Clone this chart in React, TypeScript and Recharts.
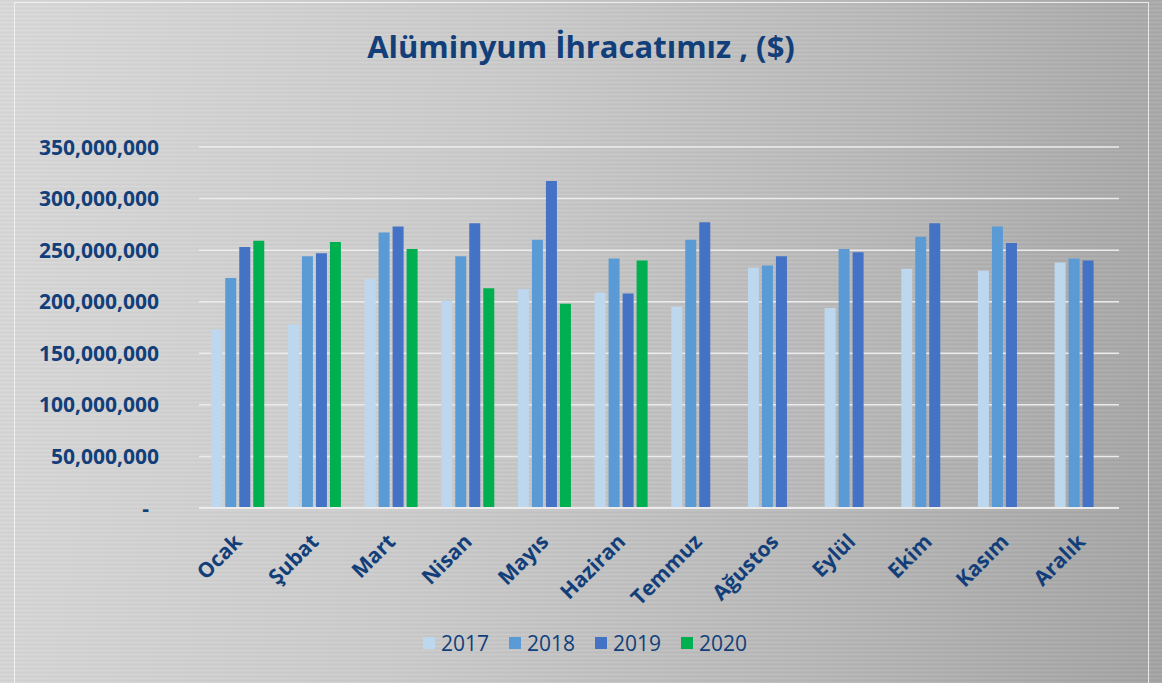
import { BarChart, Bar, XAxis, YAxis, CartesianGrid, Legend } from "recharts";

const months = [
  "Ocak", "Şubat", "Mart", "Nisan", "Mayıs", "Haziran",
  "Temmuz", "Ağustos", "Eylül", "Ekim", "Kasım", "Aralık",
];

const y2017 = [173e6, 178e6, 222e6, 201e6, 212e6, 209e6, 195e6, 233e6, 194e6, 232e6, 230e6, 238e6];
const y2018 = [223e6, 244e6, 267e6, 244e6, 260e6, 242e6, 260e6, 235e6, 251e6, 263e6, 273e6, 242e6];
const y2019 = [253e6, 247e6, 273e6, 276e6, 317e6, 208e6, 277e6, 244e6, 248e6, 276e6, 257e6, 240e6];
const y2020 = [259e6, 258e6, 251e6, 213e6, 198e6, 240e6, null, null, null, null, null, null];

const yTicks = [0, 50e6, 100e6, 150e6, 200e6, 250e6, 300e6, 350e6];

const series = [
  { key: "2017", color: "#BDD7EE" },
  { key: "2018", color: "#5B9BD5" },
  { key: "2019", color: "#4472C4" },
  { key: "2020", color: "#00B050" },
];

const TEXT = "#123F7A";
const FONT = "'Open Sans', sans-serif";

const data = months.map((m, i) => ({
  month: m,
  "2017": y2017[i],
  "2018": y2018[i],
  "2019": y2019[i],
  "2020": y2020[i],
}));

function YTick({ x, y, payload }: any) {
  const v = payload.value as number;
  const label = v === 0 ? "-" : v.toLocaleString("en-US");
  return (
    <text
      x={v === 0 ? x - 10 : x}
      y={y}
      dy="0.36em"
      textAnchor="end"
      fill={TEXT}
      fontFamily={FONT}
      fontWeight={700}
      fontSize={21}
    >
      {label}
    </text>
  );
}

function XTick({ x, y, payload }: any) {
  const ax = x + 6;
  const ay = y + 35;
  return (
    <text
      x={ax}
      y={ay}
      textAnchor="end"
      transform={`rotate(-45 ${ax} ${ay})`}
      fill={TEXT}
      fontFamily={FONT}
      fontWeight={700}
      fontSize={21}
    >
      {payload.value}
    </text>
  );
}

function LegendBox() {
  return (
    <div style={{ display: "flex", paddingLeft: 423, fontFamily: FONT }}>
      {series.map((s) => (
        <div key={s.key} style={{ display: "flex", alignItems: "center", marginRight: 20 }}>
          <span style={{ width: 12, height: 12, background: s.color, marginRight: 6 }} />
          <span style={{ fontSize: 21, color: TEXT, lineHeight: "30px" }}>{s.key}</span>
        </div>
      ))}
    </div>
  );
}

export default function App() {
  return (
    <div
      style={{
        position: "absolute",
        left: 0,
        top: 0,
        width: 1162,
        height: 683,
        overflow: "hidden",
        background:
          "repeating-linear-gradient(0deg, rgba(255,255,255,0.08) 0px, rgba(255,255,255,0.08) 1px, rgba(0,0,0,0.035) 2px, transparent 4px), linear-gradient(100deg, #d9d9d9 0%, #cbcbcb 40%, #b9b9b9 70%, #a3a3a3 100%)",
      }}
    >
      <div
        style={{
          position: "absolute",
          left: 14,
          top: 2,
          width: 1135,
          height: 700,
          border: "1.5px solid rgba(245,245,245,0.85)",
          boxSizing: "border-box",
        }}
      />
      <svg width={1162} height={90} style={{ position: "absolute", left: 0, top: 0 }}>
        <text
          x={581}
          y={58}
          textAnchor="middle"
          fill={TEXT}
          fontFamily={FONT}
          fontWeight={700}
          fontSize={31}
        >
          Alüminyum İhracatımız , ($)
        </text>
      </svg>
      <BarChart
        width={1162}
        height={683}
        data={data}
        margin={{ top: 147, right: 43, left: 0, bottom: 0 }}
        barCategoryGap="16%"
        barGap={3}
        style={{ position: "absolute", left: 0, top: 0 }}
      >
        <CartesianGrid vertical={false} stroke="#ececec" strokeWidth={1.5} />
        <XAxis
          dataKey="month"
          height={175}
          interval={0}
          tickLine={false}
          tickSize={0}
          tickMargin={0}
          axisLine={{ stroke: "#ececec", strokeWidth: 2 }}
          tick={<XTick />}
        />
        <YAxis
          width={199}
          domain={[0, 350e6]}
          ticks={yTicks}
          axisLine={false}
          tickLine={false}
          tickSize={0}
          tickMargin={40}
          tick={<YTick />}
        />
        <Legend
          verticalAlign="middle"
          wrapperStyle={{ top: 628, left: 0, width: 1162 }}
          content={() => <LegendBox />}
        />
        {series.map((s) => (
          <Bar key={s.key} dataKey={s.key} fill={s.color} isAnimationActive={false} />
        ))}
      </BarChart>
    </div>
  );
}
